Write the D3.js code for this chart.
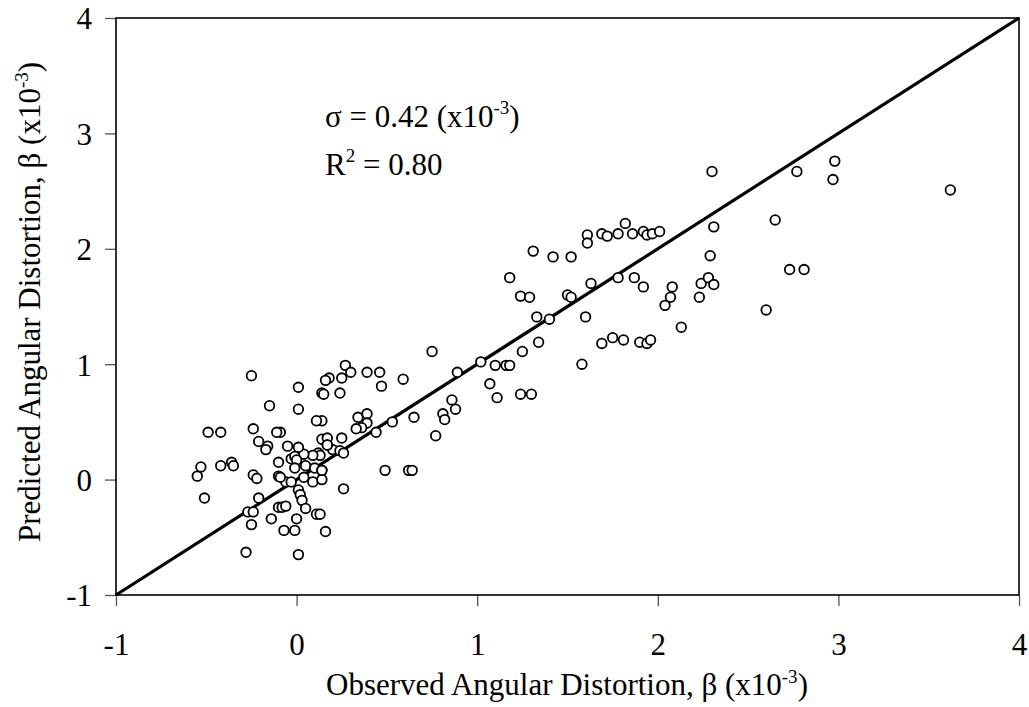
<!DOCTYPE html>
<html>
<head>
<meta charset="utf-8">
<script src="https://cdn.jsdelivr.net/npm/d3@7"></script>
<style>
  body { margin: 0; background: #fff; }
  svg { display: block; }
  text { font-family: "Liberation Serif", "Times New Roman", serif; fill: #000; }
  .tick-label { font-size: 31px; }
  .axis-title { font-size: 31px; }
  .note { font-size: 31px; }
</style>
</head>
<body>
<svg id="chart" width="1029" height="707"></svg>
<script>
// observed vs predicted angular distortion (x10^-3)
var observed = [
  1.61, 1.61, 1.69, 1.72, 1.78, 1.82, 1.86, 1.92, 1.94, 1.97, 2.01,
  1.78, 1.87, 1.92, 1.69, 1.75, 1.81, 1.90, 1.94, 1.96,
  2.08, 2.07, 2.04, 2.13, 2.23, 2.24, 2.28, 2.31, 2.29, 2.31, 2.30,
  2.65, 2.60, 2.73, 2.81, 2.77, 2.98, 2.97, 3.62, 1.58,
  1.31, 1.42, 1.52, 1.18, 1.24, 1.29, 1.50, 1.52, 1.63, 1.33, 1.40, 1.60,
  1.34, 1.25, 1.02, 1.10, 1.16, 1.18, 1.07, 1.11, 1.24, 1.30,
  0.89, 0.75, 0.86, 0.88, 0.81, 0.82, 0.77, 0.65, 0.59, 0.53, 0.44,
  0.47, 0.46, 0.39, 0.34, 0.39, 0.39, 0.36, 0.49, 0.62, 0.64,
  0.27, 0.30, 0.25, 0.18, 0.16, 0.24, 0.14, 0.15, 0.01, 0.01, 0.14,
  0.14, 0.17, 0.25, 0.20, 0.17, 0.24, 0.26, 0.12, 0.13, 0.09, 0.04,
  -0.05, 0.01, -0.03, -0.01, 0.00, -0.09, -0.25, -0.15, -0.49, -0.42,
  -0.24, -0.11, -0.21, -0.16, -0.17, -0.53, -0.42, -0.36, -0.35, -0.10,
  -0.01, -0.55, -0.51, -0.28, -0.25, -0.27, -0.24, -0.21, -0.24, -0.22,
  -0.10, -0.10, -0.08, -0.06, -0.14, -0.07, -0.01, 0.00, 0.01, -0.06,
  -0.03, 0.01, 0.02, 0.03, 0.26, 0.05, 0.11, 0.13, 0.16, 0.05, 0.10,
  0.14, 0.04, 0.09, 0.14, -0.09, 0.33, 0.11, 0.14, 0.17
];
var predicted = [
  2.12, 2.05, 2.13, 2.11, 2.13, 2.22, 2.13, 2.15, 2.12, 2.13, 2.15,
  1.75, 1.75, 1.67, 1.18, 1.23, 1.21, 1.19, 1.18, 1.21,
  1.67, 1.58, 1.51, 1.32, 1.58, 1.70, 1.75, 1.69, 1.94, 2.19, 2.67,
  2.25, 1.47, 1.82, 1.82, 2.67, 2.76, 2.60, 2.51, 1.00,
  1.98, 1.93, 1.93, 1.75, 1.59, 1.58, 1.60, 1.58, 1.70, 1.41, 1.39, 1.41,
  1.19, 1.11, 1.02, 0.99, 0.99, 0.99, 0.83, 0.71, 0.74, 0.74,
  0.93, 1.11, 0.69, 0.61, 0.57, 0.52, 0.38, 0.54, 0.87, 0.50, 0.41,
  0.81, 0.93, 0.93, 0.54, 0.57, 0.49, 0.45, 0.08, 0.08, 0.08,
  0.99, 0.93, 0.88, 0.88, 0.86, 0.75, 0.75, 0.74, 0.80, 0.61, 0.51,
  0.35, 0.36, 0.36, 0.26, 0.30, 0.25, 0.23, 0.23, 0.21, 0.21, 0.22,
  0.29, 0.28, 0.18, 0.20, 0.17, 0.41, 0.90, 0.64, 0.41, 0.41,
  0.44, 0.41, 0.33, 0.29, 0.26, 0.11, 0.12, 0.15, 0.12, 0.15,
  0.10, 0.03, -0.16, -0.63, -0.39, -0.28, -0.28, -0.16, 0.04, 0.01,
  0.03, -0.24, -0.24, -0.23, -0.34, -0.44, -0.44, -0.34, -0.65, -0.02,
  -0.02, -0.09, -0.13, -0.18, -0.08, -0.25, -0.30, -0.30, -0.45, 0.12,
  0.10, 0.08, 0.02, -0.02, 0.00, 0.02, 0.44, 0.51, 0.08, 0.30
];
var xTicks = [-1, 0, 1, 2, 3, 4];
var yTicks = [-1, 0, 1, 2, 3, 4];
var fitLine = [[-1, -1], [4, 4]];

var W = 1029, H = 707;
var margin = {top: 18, right: 10, bottom: 112, left: 116};
var dim = {w: W - margin.left - margin.right, h: H - margin.top - margin.bottom};

var svg = d3.select('#chart');
var g = svg.append('g').attr('transform', 'translate(' + margin.left + ',' + margin.top + ')');

var x = d3.scaleLinear().domain([-1, 4]).range([0, dim.w]);
var y = d3.scaleLinear().domain([-1, 4]).range([dim.h, 0]);

// plain hyphen minus like the original
var fmt = function (d) { return String(d); };

// axes with outward ticks
var xAxis = g.append('g')
    .attr('transform', 'translate(0,' + dim.h + ')')
    .call(d3.axisBottom(x).tickValues(xTicks).tickSize(11).tickFormat(fmt));
var yAxis = g.append('g')
    .call(d3.axisLeft(y).tickValues(yTicks).tickSize(11).tickFormat(fmt));

[xAxis, yAxis].forEach(function (a) {
    a.attr('font-family', null).attr('font-size', null);
    a.select('.domain').remove();
    a.selectAll('line').attr('stroke', '#555').attr('stroke-width', 1.3);
    a.selectAll('text').attr('class', 'tick-label').attr('fill', null);
});
xAxis.selectAll('text').attr('dy', null).attr('y', 60);
yAxis.selectAll('text').attr('x', -24).attr('dy', '0.35em');

// frame
g.append('rect')
    .attr('x', 0).attr('y', 0)
    .attr('width', dim.w).attr('height', dim.h)
    .attr('fill', 'none').attr('stroke', '#000').attr('stroke-width', 1.6);

// 1:1 line
g.append('line')
    .attr('x1', x(fitLine[0][0])).attr('y1', y(fitLine[0][1]))
    .attr('x2', x(fitLine[1][0])).attr('y2', y(fitLine[1][1]))
    .attr('stroke', '#000').attr('stroke-width', 3.2);

// dots
g.selectAll('circle.dot')
    .data(d3.range(observed.length))
    .enter().append('circle')
    .attr('class', 'dot')
    .attr('cx', function (i) { return x(observed[i]); })
    .attr('cy', function (i) { return y(predicted[i]); })
    .attr('r', 4.8)
    .attr('fill', '#fff')
    .attr('stroke', '#000')
    .attr('stroke-width', 1.8);

// annotation
var n1 = svg.append('text').attr('class', 'note').attr('x', 325).attr('y', 127);
n1.append('tspan').text('\u03c3 = 0.42 (x10');
n1.append('tspan').attr('font-size', 19).attr('dy', -13).text('-3');
n1.append('tspan').attr('dy', 13).text(')');
var n2 = svg.append('text').attr('class', 'note').attr('x', 325).attr('y', 175);
n2.append('tspan').text('R');
n2.append('tspan').attr('font-size', 19).attr('dy', -13).text('2');
n2.append('tspan').attr('dy', 13).text(' = 0.80');

// axis titles
var xt = svg.append('text').attr('class', 'axis-title')
    .attr('x', 567).attr('y', 695).attr('text-anchor', 'middle');
xt.append('tspan').text('Observed Angular Distortion, \u03b2 (x10');
xt.append('tspan').attr('font-size', 19).attr('dy', -12).text('-3');
xt.append('tspan').attr('dy', 12).text(')');

var yt = svg.append('text').attr('class', 'axis-title')
    .attr('font-size', 32)
    .attr('transform', 'translate(40,302) rotate(-90)')
    .attr('text-anchor', 'middle');
yt.append('tspan').text('Predicted Angular Distortion, \u03b2 (x10');
yt.append('tspan').attr('font-size', 19).attr('dy', -12).text('-3');
yt.append('tspan').attr('dy', 12).text(')');
</script>
</body>
</html>
